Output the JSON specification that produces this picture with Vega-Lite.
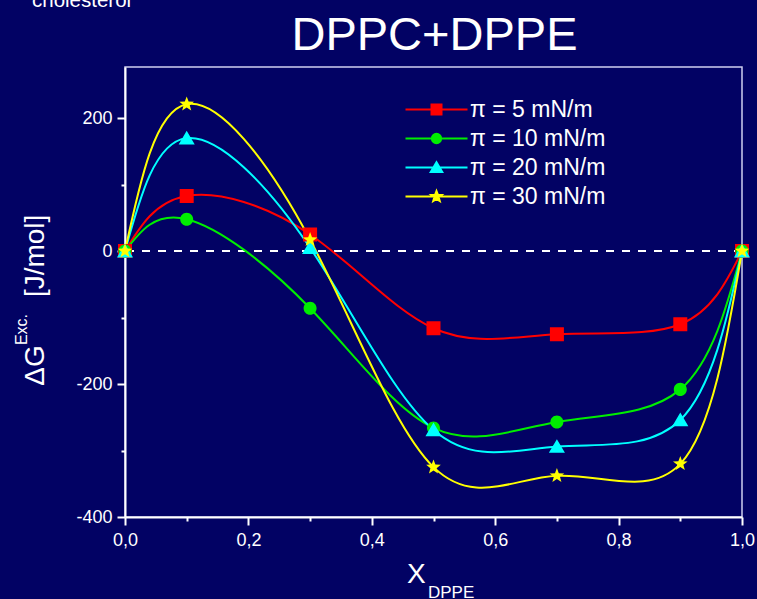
{
  "$schema": "https://vega.github.io/schema/vega-lite/v6.json",
  "width": 617,
  "height": 450,
  "autosize": {"type": "none"},
  "padding": {"left": 125, "top": 67, "right": 15, "bottom": 82},
  "background": "#020264",
  "config": {
    "font": "Liberation Sans",
    "view": {"stroke": "#d0d0f0", "strokeWidth": 1.5}
  },
  "data": {
    "values": [
      {"s": "π = 5 mN/m", "x": 0, "y": 0},
      {"s": "π = 5 mN/m", "x": 0.1, "y": 83},
      {"s": "π = 5 mN/m", "x": 0.3, "y": 25},
      {"s": "π = 5 mN/m", "x": 0.5, "y": -116},
      {"s": "π = 5 mN/m", "x": 0.7, "y": -125},
      {"s": "π = 5 mN/m", "x": 0.9, "y": -110},
      {"s": "π = 5 mN/m", "x": 1, "y": 0},
      {"s": "π = 10 mN/m", "x": 0, "y": 0},
      {"s": "π = 10 mN/m", "x": 0.1, "y": 48},
      {"s": "π = 10 mN/m", "x": 0.3, "y": -86},
      {"s": "π = 10 mN/m", "x": 0.5, "y": -266},
      {"s": "π = 10 mN/m", "x": 0.7, "y": -257},
      {"s": "π = 10 mN/m", "x": 0.9, "y": -208},
      {"s": "π = 10 mN/m", "x": 1, "y": 0},
      {"s": "π = 20 mN/m", "x": 0, "y": 0},
      {"s": "π = 20 mN/m", "x": 0.1, "y": 170},
      {"s": "π = 20 mN/m", "x": 0.3, "y": 5},
      {"s": "π = 20 mN/m", "x": 0.5, "y": -269},
      {"s": "π = 20 mN/m", "x": 0.7, "y": -294},
      {"s": "π = 20 mN/m", "x": 0.9, "y": -254},
      {"s": "π = 20 mN/m", "x": 1, "y": 0},
      {"s": "π = 30 mN/m", "x": 0, "y": 0},
      {"s": "π = 30 mN/m", "x": 0.1, "y": 221},
      {"s": "π = 30 mN/m", "x": 0.3, "y": 17},
      {"s": "π = 30 mN/m", "x": 0.5, "y": -325},
      {"s": "π = 30 mN/m", "x": 0.7, "y": -338},
      {"s": "π = 30 mN/m", "x": 0.9, "y": -320},
      {"s": "π = 30 mN/m", "x": 1, "y": 0}
    ]
  },
  "layer": [
    {
      "mark": {"type": "rule", "color": "white", "strokeDash": [8, 8], "strokeWidth": 2},
      "encoding": {
        "y": {"datum": 0, "scale": {"domain": [-400, 277], "nice": false, "zero": false}}
      }
    },
    {
      "mark": {"type": "line", "interpolate": "natural", "strokeWidth": 2},
      "encoding": {
        "x": {
          "field": "x", "type": "quantitative",
          "scale": {"domain": [0, 1], "nice": false, "zero": false},
          "axis": {
            "title": null, "grid": false,
            "values": [0, 0.1, 0.2, 0.3, 0.4, 0.5, 0.6, 0.7, 0.8, 0.9, 1],
            "labelExpr": "round(datum.value*10) % 2 == 0 ? replace(format(datum.value, '.1f'), '.', ',') : ''",
            "tickSize": {"condition": {"test": "round(datum.value*10) % 2 == 0", "value": 8}, "value": 4},
            "tickWidth": 2, "tickColor": "white", "domainColor": "white", "domainWidth": 2,
            "labelColor": "white", "labelFontSize": 18, "labelFont": "Liberation Sans",
            "labelPadding": 6, "labelFlush": false, "labelOverlap": false
          }
        },
        "y": {
          "field": "y", "type": "quantitative",
          "scale": {"domain": [-400, 277], "nice": false, "zero": false},
          "axis": {
            "title": null, "grid": false,
            "values": [-400, -300, -200, -100, 0, 100, 200],
            "labelExpr": "datum.value % 200 == 0 ? toString(datum.value) : ''",
            "tickSize": {"condition": {"test": "datum.value % 200 == 0", "value": 8}, "value": 4},
            "tickWidth": 2, "tickColor": "white", "domainColor": "white", "domainWidth": 2,
            "labelColor": "white", "labelFontSize": 18, "labelFont": "Liberation Sans",
            "labelPadding": 5, "labelOverlap": false
          }
        },
        "stroke": {
          "field": "s", "type": "nominal",
          "scale": {
            "domain": ["π = 5 mN/m", "π = 10 mN/m", "π = 20 mN/m", "π = 30 mN/m"],
            "range": ["#ff0000", "#00ee00", "#00ffff", "#ffff00"]
          },
          "legend": {"orient": "none", "legendX": 300, "legendY": 31, "title": null, "padding": 0, "symbolSize": 100, "symbolStrokeWidth": 2, "labelOffset": 22, "labelFontSize": 23, "labelColor": "white", "labelFont": "Liberation Sans", "rowPadding": 5, "labelLimit": 300}
        },
        "detail": {"field": "s"}
      }
    },
    {
      "mark": {"type": "point", "filled": true, "opacity": 1, "size": 196},
      "encoding": {
        "x": {"field": "x", "type": "quantitative"},
        "y": {"field": "y", "type": "quantitative"},
        "color": {
          "field": "s", "type": "nominal",
          "scale": {
            "domain": ["π = 5 mN/m", "π = 10 mN/m", "π = 20 mN/m", "π = 30 mN/m"],
            "range": ["#ff0000", "#00ee00", "#00ffff", "#ffff00"]
          },
          "legend": {"orient": "none", "legendX": 300, "legendY": 31, "title": null, "padding": 0, "symbolSize": 100, "symbolStrokeWidth": 2, "labelOffset": 22, "labelFontSize": 23, "labelColor": "white", "labelFont": "Liberation Sans", "rowPadding": 5, "labelLimit": 300}
        },
        "shape": {
          "field": "s", "type": "nominal",
          "scale": {
            "domain": ["π = 5 mN/m", "π = 10 mN/m", "π = 20 mN/m", "π = 30 mN/m"],
            "range": [
              "M-6.2,0H6.2M-1,-1H1V1H-1Z",
              "M-6.2,0H6.2M0.93,0A0.93,0.93,0,1,1,-0.93,0A0.93,0.93,0,1,1,0.93,0Z",
              "M-6.2,0H6.2M0,-1.05L1.15,0.9L-1.15,0.9Z",
              "M-6.2,0H6.2M0,-1.1L0.272,-0.374L1.046,-0.34L0.439,0.143L0.647,0.89L0,0.462L-0.647,0.89L-0.439,0.143L-1.046,-0.34L-0.272,-0.374Z"
            ]
          },
          "legend": {"orient": "none", "legendX": 300, "legendY": 31, "title": null, "padding": 0, "symbolSize": 100, "symbolStrokeWidth": 2, "labelOffset": 22, "labelFontSize": 23, "labelColor": "white", "labelFont": "Liberation Sans", "rowPadding": 5, "labelLimit": 300}
        }
      }
    },
    {
      "data": {"values": [{"t": "DPPC+DPPE"}]},
      "mark": {"type": "text", "align": "center", "baseline": "alphabetic", "fontSize": 47, "color": "white", "font": "Liberation Sans"},
      "encoding": {
        "text": {"field": "t"},
        "x": {"datum": 0.5016},
        "y": {"datum": 302.3}
      }
    },
    {
      "data": {"values": [{"t": "cholesterol"}]},
      "mark": {"type": "text", "align": "left", "baseline": "alphabetic", "fontSize": 20.5, "color": "white", "font": "Liberation Sans"},
      "encoding": {
        "text": {"field": "t"},
        "x": {"datum": -0.1507},
        "y": {"datum": 367.7}
      }
    },
    {
      "data": {"values": [{"t": "ΔG"}]},
      "mark": {"type": "text", "align": "left", "baseline": "alphabetic", "angle": 270, "fontSize": 28, "color": "white", "font": "Liberation Sans"},
      "encoding": {
        "text": {"field": "t"},
        "x": {"datum": -0.1313},
        "y": {"datum": -202.5}
      }
    },
    {
      "data": {"values": [{"t": "Exc."}]},
      "mark": {"type": "text", "align": "left", "baseline": "alphabetic", "angle": 270, "fontSize": 16, "color": "white", "font": "Liberation Sans"},
      "encoding": {
        "text": {"field": "t"},
        "x": {"datum": -0.1588},
        "y": {"datum": -141.4}
      }
    },
    {
      "data": {"values": [{"t": "[J/mol]"}]},
      "mark": {"type": "text", "align": "left", "baseline": "alphabetic", "angle": 270, "fontSize": 28, "color": "white", "font": "Liberation Sans"},
      "encoding": {
        "text": {"field": "t"},
        "x": {"datum": -0.1313},
        "y": {"datum": -69.2}
      }
    },
    {
      "data": {"values": [{"t": "X"}]},
      "mark": {"type": "text", "align": "left", "baseline": "alphabetic", "fontSize": 28, "color": "white", "font": "Liberation Sans"},
      "encoding": {
        "text": {"field": "t"},
        "x": {"datum": 0.4571},
        "y": {"datum": -499.2}
      }
    },
    {
      "data": {"values": [{"t": "DPPE"}]},
      "mark": {"type": "text", "align": "left", "baseline": "alphabetic", "fontSize": 17, "color": "white", "font": "Liberation Sans"},
      "encoding": {
        "text": {"field": "t"},
        "x": {"datum": 0.4911},
        "y": {"datum": -521.8}
      }
    }
  ]
}
